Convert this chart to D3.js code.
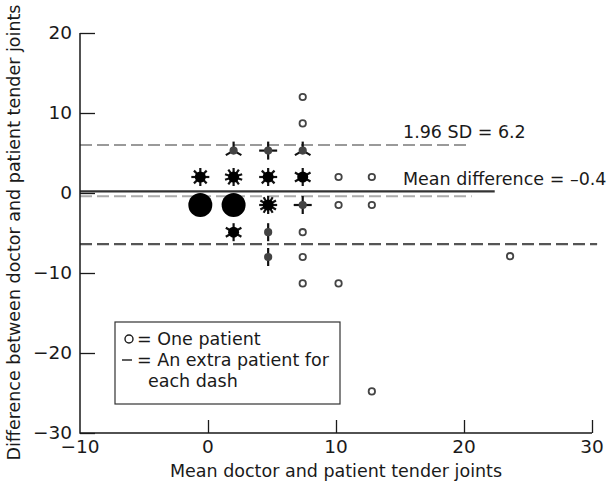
<!DOCTYPE html>
<html><head><meta charset="utf-8">
<script src="https://cdn.jsdelivr.net/npm/d3@7"></script>
<style>body{margin:0;background:#fff}svg{display:block}</style>
</head><body>
<svg id="chart" width="611" height="484"></svg>
<script>
// ---- data ----
const xTicks = [-10, 0, 10, 20, 30];
const yTicks = [-30, -20, -10, 0, 10, 20];
const meanVals = [-0.6, -0.6, 2.0, 2.0, 2.0, 2.0, 4.7, 4.7, 4.7, 4.7, 4.7, 7.4, 7.4, 7.4, 7.4, 7.4, 7.4, 7.4, 7.4, 10.2, 10.2, 10.2, 12.8, 12.8, 12.8, 23.6];
const diffVals = [2.0, -1.5, 5.3, 2.0, -1.5, -4.9, 5.3, 2.0, -1.5, -4.9, -8.0, 12.0, 8.7, 5.3, 2.0, -1.5, -4.9, -8.0, -11.3, 2.0, -1.5, -11.3, 2.0, -1.5, -24.8, -7.9];
const counts   = [9, 20, 4, 11, 20, 7, 5, 9, 13, 3, 3, 1, 1, 4, 7, 5, 1, 1, 1, 1, 1, 1, 1, 1, 1, 1];
const refValues = [6.0, 0.2, -0.4, -6.4];
const refEnds   = [20.4, 22.4, 20.6, 30.4];
const annotations = ["1.96 SD = 6.2", "Mean difference = \u20130.4"];
const annotY = [7.6, 1.8];
const legendLines = ["= One patient", "= An extra patient for", "each dash"];
const xTitle = "Mean doctor and patient tender joints";
const yTitle = "Difference between doctor and patient tender joints";

// ---- layout ----
const svg = d3.select("#chart");
const FONT = "'DejaVu Sans', sans-serif";
const FS = 17.5;
const x = d3.scaleLinear().domain([-10, 30]).range([80, 592]);
const y = d3.scaleLinear().domain([-30, 20]).range([433, 33]);
const ink = "#1a1a1a";

// reference lines
const refStyles = [
  {stroke: "#9a9a9a", width: 2, dash: "12,5"},
  {stroke: "#333", width: 2.2, dash: null},
  {stroke: "#aaa", width: 2, dash: "12,5"},
  {stroke: "#555", width: 2.2, dash: "12,5"}
];
refValues.forEach((v, i) => {
  const s = refStyles[i];
  const l = svg.append("line")
    .attr("x1", x(-10)).attr("x2", x(refEnds[i]))
    .attr("y1", y(v)).attr("y2", y(v))
    .attr("stroke", s.stroke).attr("stroke-width", s.width);
  if (s.dash) l.attr("stroke-dasharray", s.dash);
});

// axes
const yAxis = d3.axisRight(y).tickValues(yTicks).tickSize(15).tickFormat("");
const gy = svg.append("g").attr("transform", `translate(${x(-10)},0)`).call(yAxis);
gy.select(".domain").remove();
gy.selectAll(".tick line").attr("stroke", ink).attr("stroke-width", 1.3);
const xAxis = d3.axisTop(x).tickValues(xTicks.slice(1)).tickSize(13).tickFormat("");
const gx = svg.append("g").attr("transform", `translate(0,${y(-30)})`).call(xAxis);
gx.select(".domain").remove();
gx.selectAll(".tick line").attr("stroke", ink).attr("stroke-width", 1.3);
svg.append("path")
  .attr("d", `M${x(-10)},${y(20)}V${y(-30)}H${x(30)}`)
  .attr("fill", "none").attr("stroke", ink).attr("stroke-width", 1.5);

// tick labels
svg.selectAll(".ylab").data(yTicks).enter().append("text")
  .attr("x", 72).attr("y", d => y(d)).attr("dy", "0.35em")
  .attr("text-anchor", "end").attr("font-family", FONT).attr("font-size", 18.5).attr("fill", ink)
  .text(d => d < 0 ? "\u2212" + Math.abs(d) : d);
svg.selectAll(".xlab").data(xTicks).enter().append("text")
  .attr("x", d => x(d)).attr("y", 447).attr("dy", "0.35em")
  .attr("text-anchor", "middle").attr("font-family", FONT).attr("font-size", 18.5).attr("fill", ink)
  .text(d => d < 0 ? "\u2212" + Math.abs(d) : d);

// titles
svg.append("text").attr("x", 336).attr("y", 471).attr("dy", "0.35em")
  .attr("text-anchor", "middle").attr("font-family", FONT).attr("font-size", FS).attr("fill", ink)
  .text(xTitle);
svg.append("text").attr("transform", `translate(14,${(5 + 460) / 2}) rotate(-90)`).attr("dy", "0.35em")
  .attr("text-anchor", "middle").attr("font-family", FONT).attr("font-size", FS).attr("fill", ink)
  .text(yTitle);

// annotations
annotations.forEach((t, i) => {
  svg.append("text").attr("x", 403).attr("y", y(annotY[i])).attr("dy", "0.35em")
    .attr("font-family", FONT).attr("font-size", FS).attr("fill", ink).text(t);
});

// sunflower points
const pts = meanVals.map((m, i) => ({m, d: diffVals[i], n: counts[i]}));
const g = svg.append("g");
pts.forEach(p => {
  const cx = x(p.m), cy = y(p.d);
  if (p.n >= 15) {
    g.append("circle").attr("cx", cx).attr("cy", cy).attr("r", 12).attr("fill", "#000");
    return;
  }
  const petals = p.n - 1;
  for (let k = 0; k < petals; k++) {
    const a = -Math.PI / 2 + k * 2 * Math.PI / petals;
    g.append("line").attr("x1", cx).attr("y1", cy)
      .attr("x2", cx + 9 * Math.cos(a)).attr("y2", cy + 9 * Math.sin(a))
      .attr("stroke", "#111").attr("stroke-width", 2.2);
  }
  if (petals >= 5) {
    g.append("circle").attr("cx", cx).attr("cy", cy).attr("r", 5.5).attr("fill", "#000");
  } else {
    g.append("circle").attr("cx", cx).attr("cy", cy).attr("r", 3.2)
      .attr("fill", petals > 0 ? "#444" : "#fff").attr("stroke", "#444").attr("stroke-width", 1.8);
  }
});

// legend
svg.append("rect").attr("x", 115).attr("y", 322).attr("width", 225).attr("height", 82)
  .attr("fill", "#fff").attr("stroke", "#333").attr("stroke-width", 1.2);
svg.append("circle").attr("cx", 129).attr("cy", 339).attr("r", 4)
  .attr("fill", "none").attr("stroke", ink).attr("stroke-width", 1.4);
svg.append("line").attr("x1", 122).attr("x2", 132).attr("y1", 360).attr("y2", 360)
  .attr("stroke", ink).attr("stroke-width", 1.4);
const legX = [137, 137, 148];
legendLines.forEach((t, i) => {
  svg.append("text").attr("x", legX[i]).attr("y", 339 + i * 21).attr("dy", "0.35em")
    .attr("font-family", FONT).attr("font-size", FS).attr("fill", ink).text(t);
});
</script>
</body></html>
